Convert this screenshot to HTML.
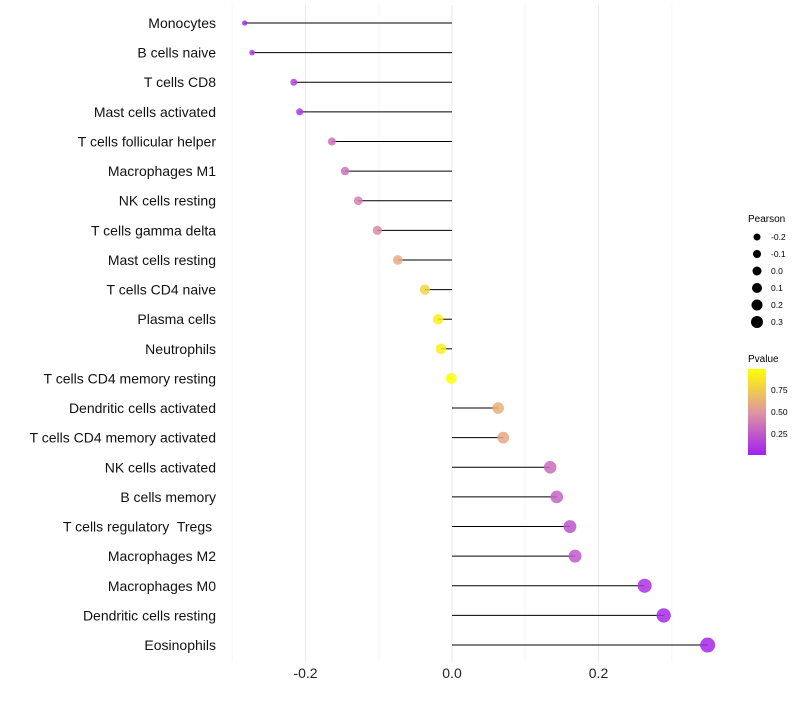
<!DOCTYPE html>
<html><head><meta charset="utf-8"><style>
body{margin:0;background:#fff;font-family:"Liberation Sans",sans-serif}
</style></head><body>
<svg id="c" width="800" height="700" xmlns="http://www.w3.org/2000/svg" font-family="Liberation Sans, sans-serif">
<defs><linearGradient id="pg" x1="0" y1="1" x2="0" y2="0">
<stop offset="0" stop-color="#a020f0"/><stop offset="0.5" stop-color="#e096a0"/><stop offset="1" stop-color="#ffff00"/></linearGradient></defs>
<g id="grid"></g><g id="marks"></g><g id="labels"></g>
<g>
<text x="748" y="222" font-size="10" fill="#000">Pearson</text>
<g id="sleg"></g></g>
<g>
<text x="748" y="362" font-size="10" fill="#000">Pvalue</text>
<rect x="748" y="369" width="18" height="86" fill="url(#pg)"/>
<text x="771" y="393" font-size="8.5">0.75</text>
<text x="771" y="415" font-size="8.5">0.50</text>
<text x="771" y="437" font-size="8.5">0.25</text>
</g>
</svg>
<script>
const categories=["Monocytes","B cells naive","T cells CD8","Mast cells activated","T cells follicular helper","Macrophages M1","NK cells resting","T cells gamma delta","Mast cells resting","T cells CD4 naive","Plasma cells","Neutrophils","T cells CD4 memory resting","Dendritic cells activated","T cells CD4 memory activated","NK cells activated","B cells memory","T cells regulatory  Tregs ","Macrophages M2","Macrophages M0","Dendritic cells resting","Eosinophils"];
const pearson=[-0.283,-0.273,-0.216,-0.208,-0.164,-0.146,-0.128,-0.102,-0.074,-0.037,-0.019,-0.015,-0.001,0.063,0.070,0.134,0.143,0.161,0.168,0.263,0.289,0.349];
const pvalue=[0.05,0.1,0.15,0.12,0.35,0.35,0.4,0.45,0.6,0.8,0.92,0.93,0.99,0.62,0.58,0.32,0.28,0.22,0.24,0.08,0.05,0.03];
const xTicks=[-0.2,0.0,0.2];
const xTickLabels=["-0.2","0.0","0.2"];
const minorTicks=[-0.3,-0.1,0.1,0.3];
const sizeLegend=[-0.2,-0.1,0.0,0.1,0.2,0.3];
const NS="http://www.w3.org/2000/svg";
const x=v=>452+v*732.5;
const y=i=>23+i*29.62;
const r=v=>Math.sqrt(Math.max(3,29+78*v));
function col(p){const a=[160,32,240],m=[224,150,160],b=[255,255,0];let c0,c1,t;if(p<0.5){c0=a;c1=m;t=p/0.5}else{c0=m;c1=b;t=(p-0.5)/0.5}return "rgb("+c0.map((c,k)=>Math.round(c+(c1[k]-c)*t)).join(",")+")"}
function el(t,a,p){const e=document.createElementNS(NS,t);for(const k in a)e.setAttribute(k,a[k]);p.appendChild(e);return e}
const g=document.getElementById("grid"),m=document.getElementById("marks"),L=document.getElementById("labels");
minorTicks.forEach(v=>{const l=el("line",{x1:x(v),x2:x(v),y1:5,y2:662,stroke:"#f5f5f5","stroke-width":1},g);

});
xTicks.forEach((v,i)=>{const l=el("line",{x1:x(v),x2:x(v),y1:5,y2:662,stroke:"#ebebeb","stroke-width":1.2},g);


const t=el("text",{x:x(v),y:678,"font-size":14,"text-anchor":"middle",fill:"#222"},L);t.textContent=xTickLabels[i];

});
categories.forEach((c,i)=>{
const ln=el("line",{x1:x(0),x2:x(pearson[i]),y1:y(i),y2:y(i),stroke:"#000","stroke-width":1},m);


const d=el("circle",{cx:x(pearson[i]),cy:y(i),r:r(pearson[i]),fill:col(pvalue[i]),"fill-opacity":0.85},m);


const t=el("text",{x:216,y:y(i)+5,"font-size":14,"text-anchor":"end",fill:"#111",style:"white-space:pre"},L);t.textContent=c;

});
const sl=document.getElementById("sleg");
sizeLegend.forEach((v,i)=>{const cy=237+i*17;
const c=el("circle",{cx:757,cy:cy,r:3.5+(v+0.2)*5,fill:"#000"},sl);


const t=el("text",{x:771,y:cy+3,"font-size":8.5},sl);t.textContent=v.toFixed(1);

});
</script>
</body></html>
